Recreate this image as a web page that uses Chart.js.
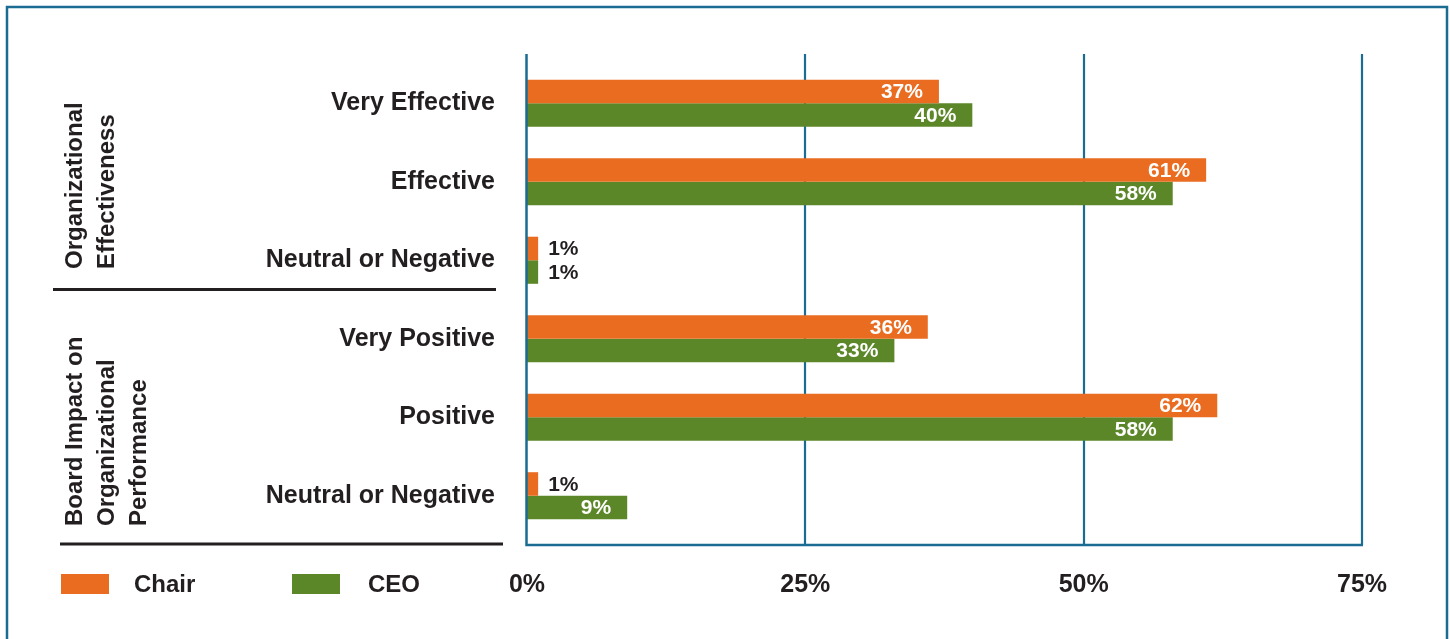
<!DOCTYPE html>
<html><head><meta charset="utf-8">
<script src="https://cdn.jsdelivr.net/npm/chart.js@4/dist/chart.umd.min.js"></script>
<style>html,body{margin:0;padding:0;background:#fff;}#wrap{width:1450px;height:639px;}</style>
</head><body><div id="wrap"><canvas id="c" width="1450" height="639"></canvas></div>
<script>
const categories = ["Very Effective", "Effective", "Neutral or Negative", "Very Positive", "Positive", "Neutral or Negative"];
const chairValues = [37, 61, 1, 36, 62, 1];
const ceoValues = [40, 58, 1, 33, 58, 9];
const seriesNames = ["Chair", "CEO"];
const xTickValues = [0, 25, 50, 75];
const groupTitles = [["Organizational", "Effectiveness"], ["Board Impact on", "Organizational", "Performance"]];

const ORANGE = '#E96C20', GREEN = '#5C8729', TEAL = '#1B6C92', DARK = '#231F20';
const FONT = '"Liberation Sans", Arial, sans-serif';

const decor = {
  id: 'decor',
  beforeDraw(chart) {
    const ctx = chart.ctx;
    ctx.save();
    ctx.fillStyle = '#fff';
    ctx.fillRect(0, 0, chart.width, chart.height);
    ctx.strokeStyle = TEAL; ctx.lineWidth = 2.5;
    ctx.strokeRect(7, 7, 1440, 720);
    ctx.restore();
  },
  beforeDatasetsDraw(chart) {
    const ctx = chart.ctx, xs = chart.scales.x, ca = chart.chartArea;
    ctx.save();
    ctx.strokeStyle = TEAL; ctx.lineWidth = 2.2;
    xTickValues.slice(1).forEach(v => {
      const px = Math.round(xs.getPixelForValue(v));
      ctx.beginPath(); ctx.moveTo(px, ca.top - 10); ctx.lineTo(px, ca.bottom + 10); ctx.stroke();
    });
    ctx.restore();
  },
  afterDatasetsDraw(chart) {
    const ctx = chart.ctx, xs = chart.scales.x, ys = chart.scales.y, ca = chart.chartArea;
    ctx.save();
    // zero axis and bottom line
    ctx.strokeStyle = TEAL; ctx.lineWidth = 2.5;
    const x0 = xs.getPixelForValue(xTickValues[0]) - 0.5;
    const x1 = Math.round(xs.getPixelForValue(xTickValues[xTickValues.length - 1]));
    ctx.beginPath(); ctx.moveTo(x0, ca.top - 10); ctx.lineTo(x0, ca.bottom + 10); ctx.lineTo(x1 + 1, ca.bottom + 10); ctx.stroke();

    // data labels
    chart.data.datasets.forEach((ds, di) => {
      const meta = chart.getDatasetMeta(di);
      meta.data.forEach((el, i) => {
        const txt = ds.data[i] + '%';
        const w = el.x - el.base;
        ctx.font = 'bold 21px ' + FONT;
        ctx.textBaseline = 'middle';
        if (w > 40) {
          ctx.fillStyle = '#fff'; ctx.textAlign = 'right';
          ctx.fillText(txt, el.x - 16, el.y + 1);
        } else {
          ctx.fillStyle = DARK; ctx.textAlign = 'left';
          ctx.fillText(txt, el.x + 10, el.y + 1);
        }
      });
    });

    // separators
    ctx.strokeStyle = DARK; ctx.lineWidth = 3;
    const sepY = ys.getPixelForValue(2.5) - 10;
    ctx.beginPath(); ctx.moveTo(53, sepY); ctx.lineTo(496, sepY); ctx.stroke();
    ctx.beginPath(); ctx.moveTo(60, ca.bottom + 9); ctx.lineTo(503, ca.bottom + 9); ctx.stroke();

    // group titles (rotated)
    ctx.fillStyle = DARK; ctx.font = 'bold 24px ' + FONT;
    ctx.textAlign = 'left'; ctx.textBaseline = 'alphabetic';
    const starts = [269, 526];
    groupTitles.forEach((lines, g) => {
      lines.forEach((t, k) => {
        ctx.save();
        ctx.translate(82 + k * 32, starts[g]);
        ctx.rotate(-Math.PI / 2);
        ctx.fillText(t, 0, 0);
        ctx.restore();
      });
    });

    // legend
    const legX = [61, 292], legTX = [134, 368];
    chart.data.datasets.forEach((ds, di) => {
      ctx.fillStyle = ds.backgroundColor;
      ctx.fillRect(legX[di], 574, 48, 20);
      ctx.fillStyle = DARK; ctx.font = 'bold 24px ' + FONT;
      ctx.textBaseline = 'middle'; ctx.textAlign = 'left';
      ctx.fillText(ds.label, legTX[di], 585);
    });
    ctx.restore();
  }
};

new Chart(document.getElementById('c'), {
  type: 'bar',
  data: {
    labels: categories,
    datasets: [
      { label: seriesNames[0], data: chairValues, backgroundColor: ORANGE, categoryPercentage: 0.6, barPercentage: 1.0 },
      { label: seriesNames[1], data: ceoValues, backgroundColor: GREEN, categoryPercentage: 0.6, barPercentage: 1.0 }
    ]
  },
  options: {
    indexAxis: 'y',
    responsive: false,
    devicePixelRatio: 1,
    animation: false,
    layout: { padding: { left: 0, right: 88, top: 64, bottom: 0 } },
    plugins: { legend: { display: false }, tooltip: { enabled: false } },
    scales: {
      y: {
        type: 'category',
        offset: true,
        grid: { display: false, drawTicks: false },
        border: { display: false },
        ticks: { color: DARK, padding: 32, font: { family: FONT, size: 25, weight: 'bold' } },
        afterFit: s => { s.width = 527; }
      },
      x: {
        type: 'linear', min: 0, max: 75, position: 'bottom',
        grid: { display: false, drawTicks: false },
        border: { display: false },
        afterBuildTicks: s => { s.ticks = xTickValues.map(v => ({ value: v })); },
        ticks: { color: DARK, padding: 35, autoSkip: false, maxRotation: 0, font: { family: FONT, size: 25, weight: 'bold' }, callback: v => v + '%' },
        afterFit: s => { s.height = 104; }
      }
    }
  },
  plugins: [decor]
});
</script>
</body></html>
